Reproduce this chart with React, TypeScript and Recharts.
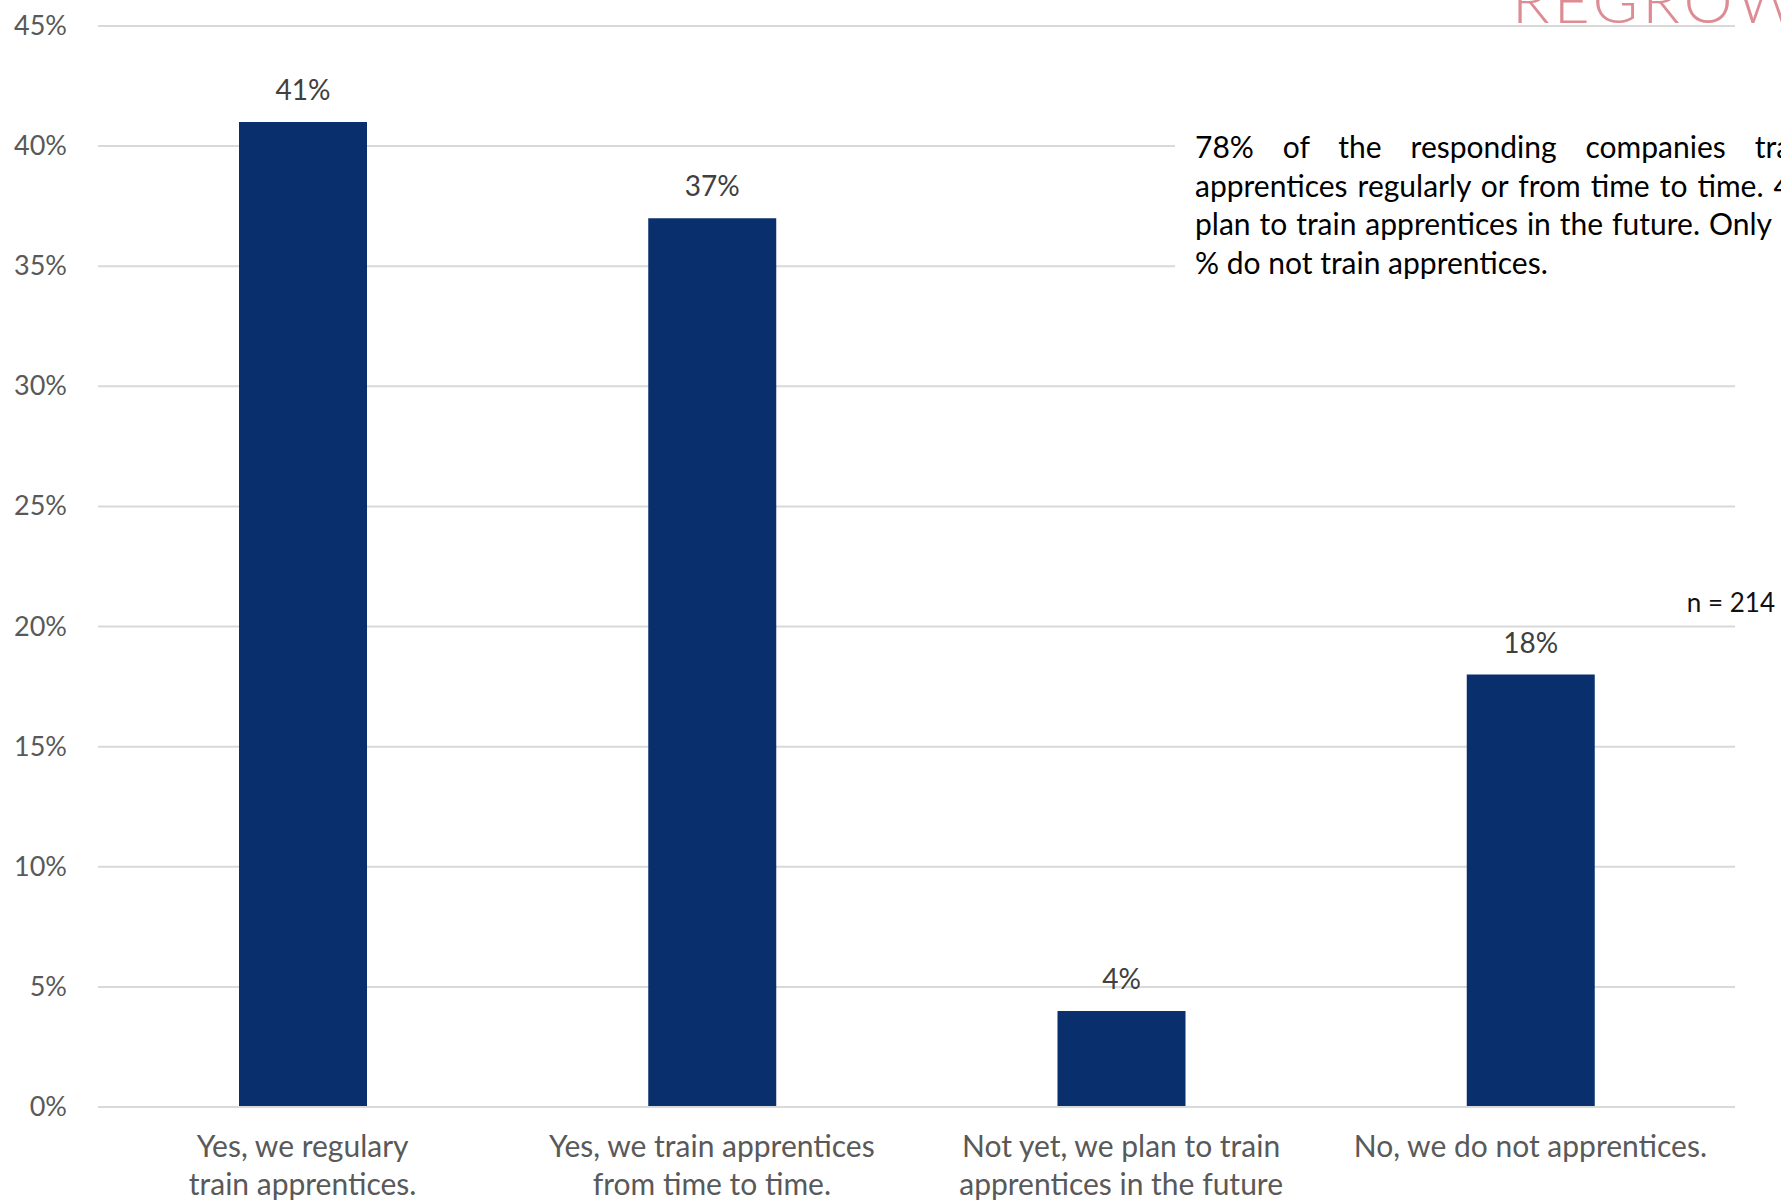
import { BarChart, Bar, XAxis, YAxis, CartesianGrid, LabelList } from 'recharts'

const categories = [
  ['Yes, we regulary', 'train apprentices.'],
  ['Yes, we train apprentices', 'from time to time.'],
  ['Not yet, we plan to train', 'apprentices in the future'],
  ['No, we do not apprentices.'],
]
const shares = [41, 37, 4, 18]
const yTicks = [0, 5, 10, 15, 20, 25, 30, 35, 40, 45]
const noteLines = [
  '78% of the responding companies train',
  'apprentices regularly or from time to time. 4%',
  'plan to train apprentices in the future. Only 18',
  '% do not train apprentices.',
]
const sampleNote = 'n = 214'

const data = categories.map((lines, i) => ({ name: lines.join(' '), lines, value: shares[i] }))

const FONT = 'Lato, "Open Sans", sans-serif'

function YTick({ y, payload }: any) {
  return (
    <text x={67} y={y} dy={9} textAnchor="end" fill="#595959" fontSize={27} fontFamily={FONT}>
      {payload.value}%
    </text>
  )
}

function XTick({ x, y, index }: any) {
  const lines = data[index]?.lines ?? []
  return (
    <text textAnchor="middle" fill="#595959" fontSize={30} fontFamily={FONT}>
      {lines.map((l: string, i: number) => (
        <tspan key={i} x={x} y={y + 50 + i * 38}>{l}</tspan>
      ))}
    </text>
  )
}

export default function App() {
  return (
    <div style={{ position: 'absolute', left: 0, top: 0, width: 1781, height: 1200, overflow: 'hidden', background: '#fff' }}>
      <BarChart width={1781} height={1200} data={data} margin={{ top: 26, right: 46, bottom: 0, left: 0 }}>
        <CartesianGrid vertical={false} stroke="#d9d9d9" strokeWidth={2} />
        <YAxis
          width={98} domain={[0, 45]} ticks={yTicks} interval={0}
          axisLine={false} tickLine={false} tick={<YTick />}
        />
        <XAxis
          dataKey="name" height={93} interval={0} tickSize={0} tickMargin={0}
          axisLine={{ stroke: '#d9d9d9', strokeWidth: 2 }} tickLine={false} tick={<XTick />}
        />
        <Bar dataKey="value" fill="#09306d" barSize={128} isAnimationActive={false}>
          <LabelList
            dataKey="value" position="top" offset={22}
            formatter={(v: any) => `${v}%`}
            fill="#404040" fontSize={28} fontFamily={FONT}
          />
        </Bar>
      </BarChart>

      {/* logo, cut off by the top edge */}
      <div style={{
        position: 'absolute', left: 1512, top: -32, lineHeight: '62px', fontSize: 62, fontWeight: 300,
        fontFamily: FONT, color: '#d7707a', letterSpacing: 4, whiteSpace: 'nowrap', opacity: 0.8,
      }}>
        REGROW
      </div>

      {/* summary text box over the upper gridlines */}
      <div style={{
        position: 'absolute', left: 1175, top: 110, width: 700, height: 190, background: '#fff',
        paddingLeft: 20, paddingTop: 17, boxSizing: 'border-box',
      }}>
        {noteLines.map((l, i) => (
          <div key={i} style={{
            width: 620, fontFamily: FONT, fontSize: 30, lineHeight: '38.5px', color: '#000',
            whiteSpace: 'nowrap',
            textAlign: 'justify', textAlignLast: i < noteLines.length - 1 ? 'justify' : 'left',
          }}>
            {l}
          </div>
        ))}
      </div>

      <div style={{
        position: 'absolute', right: 6, top: 587, fontFamily: FONT, fontSize: 26, lineHeight: '30px',
        color: '#111', whiteSpace: 'nowrap',
      }}>
        {sampleNote}
      </div>
    </div>
  )
}
